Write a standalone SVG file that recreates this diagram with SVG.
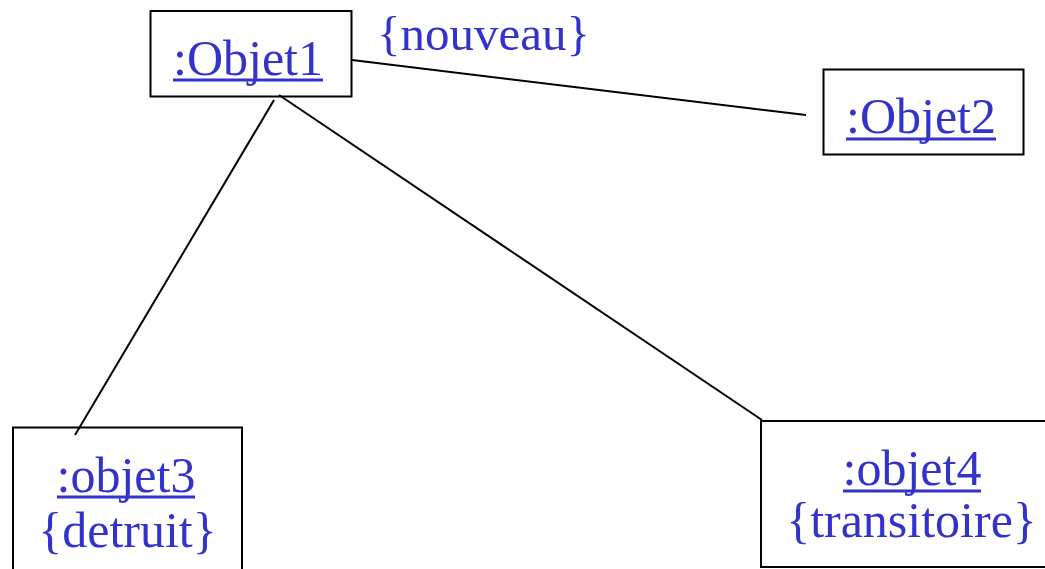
<svg xmlns="http://www.w3.org/2000/svg" width="1045" height="569" viewBox="0 0 1045 569">
<style>
.box{fill:#fff;stroke:#000;stroke-width:2}
.t{font-family:"Liberation Serif","Times New Roman",serif;font-size:50px;fill:#3333CC;text-anchor:middle}
.u{stroke:#3333CC;stroke-width:3}
.c{stroke:#000;stroke-width:2;fill:none}
</style>
<rect width="1045" height="569" fill="#fff"/>
<g id="objet1">
<rect class="box" x="150.5" y="11" width="201" height="85.5"/>
<text class="t" x="248" y="75">:Objet1</text>
<line class="u" x1="173" y1="80" x2="323" y2="80"/>
</g>
<text id="nouveau" x="377" y="50" font-family="Liberation Serif, Times New Roman, serif" font-size="49" fill="#3333CC">{nouveau}</text>
<g id="objet2">
<rect class="box" x="823.5" y="69.5" width="200" height="85"/>
<text class="t" x="921" y="133">:Objet2</text>
<line class="u" x1="846" y1="139" x2="996" y2="139"/>
</g>
<g id="objet3">
<rect class="box" x="13" y="427.5" width="229" height="150"/>
<text class="t" x="126" y="492">:objet3</text>
<line class="u" x1="57" y1="497" x2="195" y2="497"/>
<text class="t" x="127.5" y="547">{detruit}</text>
</g>
<g id="objet4">
<rect class="box" x="761" y="421" width="300" height="146"/>
<text class="t" x="912" y="485">:objet4</text>
<line class="u" x1="843" y1="491" x2="981" y2="491"/>
<text class="t" x="911.5" y="537">{transitoire}</text>
</g>
<g id="connectors">
<line class="c" x1="352" y1="60" x2="806" y2="115"/>
<line class="c" x1="274" y1="100" x2="75" y2="435"/>
<line class="c" x1="279" y1="95" x2="762" y2="420"/>
</g>
</svg>
